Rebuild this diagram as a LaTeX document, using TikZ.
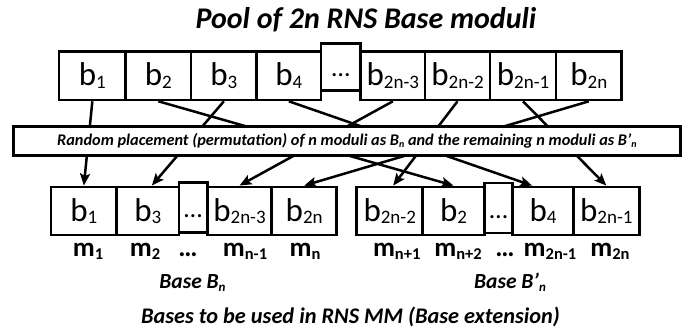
\documentclass[tikz,border=0pt]{standalone}
\usepackage{fontspec}
\setmainfont{Carlito}
\usetikzlibrary{arrows.meta}
\pgfdeclarelayer{wires}
\pgfsetlayers{wires,main}

% lowered subscripts in the text font
\newcommand\bsub[1]{\raisebox{-2.5pt}{\fontsize{19}{19}\selectfont #1}}
\newcommand\msub[1]{\raisebox{-3pt}{\fontsize{16.5}{16.5}\selectfont #1}}
\newcommand\tsub[1]{\raisebox{-2pt}{\fontsize{10}{10}\selectfont #1}}
\newcommand\lsub[1]{\raisebox{-3pt}{\fontsize{13}{13}\selectfont #1}}

\begin{document}
\begin{tikzpicture}[x=1pt,y=-1pt,
  cell/.style={draw, line width=2.6pt, fill=white, inner sep=0pt,
    minimum height=48.3pt, text height=23pt, text depth=3pt,
    font=\fontsize{33}{33}\selectfont},
  gap/.style={cell, minimum height=47.4pt, font=\fontsize{26}{26}\selectfont},
  lowgap/.style={cell, minimum height=50pt, font=\fontsize{26}{26}\selectfont},
  wire/.style={line width=2.5pt, -{Stealth[length=12pt,width=10pt,inset=2.5pt]}},
  mlabel/.style={anchor=base, inner sep=0pt, font=\bfseries\fontsize{27}{27}\selectfont},
  heading/.style={anchor=base, inner sep=0pt, font=\bfseries\itshape\fontsize{30}{30}\selectfont},
  basename/.style={anchor=base, inner sep=0pt, font=\bfseries\itshape\fontsize{21.5}{21.5}\selectfont},
  caption/.style={anchor=base, inner sep=0pt, font=\bfseries\itshape\fontsize{22.3}{22.3}\selectfont},
  permbox/.style={draw, line width=2.6pt, fill=white, inner sep=0pt,
    minimum width=667pt, minimum height=29pt,
    font=\bfseries\itshape\fontsize{16.3}{16.3}\selectfont}
]
\useasboundingbox (0,0) rectangle (691,329);

% title
\node[heading] (title) at (366,28.6) {Pool of 2n RNS Base moduli};

% pool of 2n moduli
\node[cell, minimum width=66.7pt] (tb1)   at (92.35,75.85) {b\bsub{1}};
\node[cell, minimum width=65.3pt] (tb2)   at (158.35,75.85) {b\bsub{2}};
\node[cell, minimum width=65.7pt] (tb3)   at (223.85,75.85) {b\bsub{3}};
\node[cell, minimum width=64.3pt] (tb4)   at (288.85,75.85) {b\bsub{4}};
\node[cell, minimum width=64.3pt] (tb2n3) at (392.85,75.85) {b\bsub{2n-3}};
\node[cell, minimum width=65pt]   (tb2n2) at (457.5,75.85) {b\bsub{2n-2}};
\node[cell, minimum width=66pt]   (tb2n1) at (523,75.85) {b\bsub{2n-1}};
\node[cell, minimum width=65.7pt] (tb2n)  at (588.85,75.85) {b\bsub{2n}};
\node[gap, minimum width=39.7pt]  (tdots) at (340.85,67) {…};

% permutation step
\node[permbox] (perm) at (346.9,141.2)
  {Random placement (permutation) of n moduli as B\tsub{n} and the remaining n moduli as B’\tsub{n}};

% base B_n
\node[cell, minimum width=65.7pt] (lb1)   at (83.85,211) {b\bsub{1}};
\node[cell, minimum width=62.3pt] (lb3)   at (147.85,211) {b\bsub{3}};
\node[cell, minimum width=64.4pt] (lb2n3) at (239.5,211) {b\bsub{2n-3}};
\node[cell, minimum width=65pt]   (lb2n)  at (304.2,211) {b\bsub{2n}};
\node[lowgap, minimum width=28.3pt] (ldA) at (193.15,207.5) {…};

% base B'_n
\node[cell, minimum width=66pt]   (lb2n2) at (389.7,211) {b\bsub{2n-2}};
\node[cell, minimum width=61.6pt] (lb2)   at (453.5,211) {b\bsub{2}};
\node[cell, minimum width=60.6pt] (lb4)   at (543,211) {b\bsub{4}};
\node[cell, minimum width=66pt]   (lb2n1) at (606.3,211) {b\bsub{2n-1}};
\node[lowgap, minimum width=28.4pt] (ldB) at (498.5,208) {…};

% connections from the pool to the two bases
\begin{pgfonlayer}{wires}
  \draw[wire] (tb1.south)   -- (lb1.north);
  \draw[wire] (tb2.south)   -- (lb2.north);
  \draw[wire] (tb3.south)   -- ([xshift=4pt]lb3.north);
  \draw[wire] (tb4.south)   -- ([xshift=-11pt]lb4.north);
  \draw[wire] (tb2n3.south) -- (lb2n3.north);
  \draw[wire] (tb2n2.south) -- ([xshift=3.5pt]lb2n2.north);
  \draw[wire] (tb2n1.south) -- (lb2n1.north);
  \draw[wire] (tb2n.south)  -- (lb2n.north);
\end{pgfonlayer}

% moduli indices
\node[mlabel] (m1)   at (88,256)  {m\msub{1}};
\node[mlabel] (m2)   at (145,256) {m\msub{2}};
\node[mlabel] (mdA)  at (188,256) {…};
\node[mlabel] (mn1)  at (245,256) {m\msub{n-1}};
\node[mlabel] (mn)   at (305,256) {m\msub{n}};
\node[mlabel] (mnp1) at (396.7,256) {m\msub{n+1}};
\node[mlabel] (mnp2) at (458,256) {m\msub{n+2}};
\node[mlabel] (mdB)  at (505,256) {…};
\node[mlabel] (m2n1) at (550,256) {m\msub{2n-1}};
\node[mlabel] (m2n)  at (610,256) {m\msub{2n}};

% base names and caption
\node[basename] (baseA) at (192.5,288.3) {Base B\lsub{n}};
\node[basename] (baseB) at (510,288.3) {Base B’\lsub{n}};
\node[caption] (cap) at (350.5,323.3) {Bases to be used in RNS MM (Base extension)};
\end{tikzpicture}
\end{document}
